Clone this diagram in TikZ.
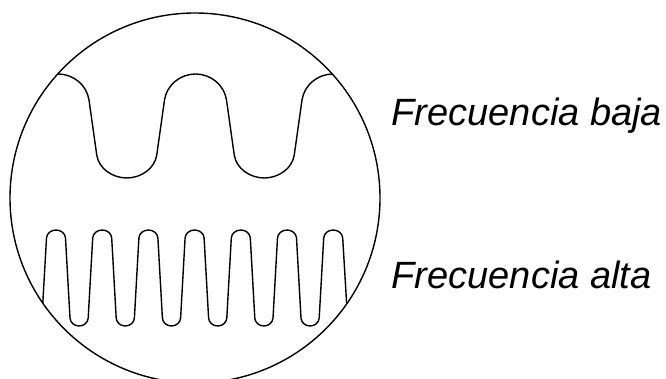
\documentclass[tikz,border=0pt]{standalone}
\usepackage{fontspec}
\setmainfont{Liberation Sans}
\usepackage{tikz}

\begin{document}
\begin{tikzpicture}[x=1pt, y=1pt, line width=1.4pt, line join=round,
    wavelabel/.style={anchor=base west, inner sep=0pt, font=\fontsize{38}{45}\selectfont\itshape}]
  \clip (0, 0) rectangle (666, 378);

  % Lens outline
  \draw (195, 180) circle (185);

  % Low frequency wave (peaks every 137.5)
  \draw (58, 304)
    \foreach \p in {58, 195.5} {
      .. controls (\p+15.5, 304) and (\p+28.8, 292.8) .. (\p+31, 278)
      -- (\p+38.75, 223)
      .. controls (\p+40.75, 209.3) and (\p+54.75, 200) .. (\p+68.75, 200)
      .. controls (\p+82.75, 200) and (\p+96.75, 209.3) .. (\p+98.75, 223)
      -- (\p+106.5, 278)
      .. controls (\p+108.7, 292.8) and (\p+122, 304) .. (\p+137.5, 304)
    };

  % High frequency wave (peaks every 46.2)
  \draw (42.8, 75) -- (46.5, 140)
    .. controls (46.75, 144.4) and (50.8, 148) .. (56, 148)
    \foreach \p in {56, 102.2, 148.4, 194.6, 240.8, 287} {
      .. controls (\p+5.2, 148) and (\p+9.25, 144.4) .. (\p+9.5, 140)
      -- (\p+14, 60)
      .. controls (\p+14.25, 55.6) and (\p+18.1, 52) .. (\p+23.1, 52)
      .. controls (\p+28.1, 52) and (\p+31.95, 55.6) .. (\p+32.2, 60)
      -- (\p+36.7, 140)
      .. controls (\p+36.95, 144.4) and (\p+41, 148) .. (\p+46.2, 148)
    }
    .. controls (338.4, 148) and (342.45, 144.4) .. (342.7, 140)
    -- (346.6, 75);

  % Labels
  \node[wavelabel] (lowlabel) at (391, 252) {Frecuencia baja};
  \node[wavelabel] (highlabel) at (391, 90) {Frecuencia alta};
\end{tikzpicture}
\end{document}
